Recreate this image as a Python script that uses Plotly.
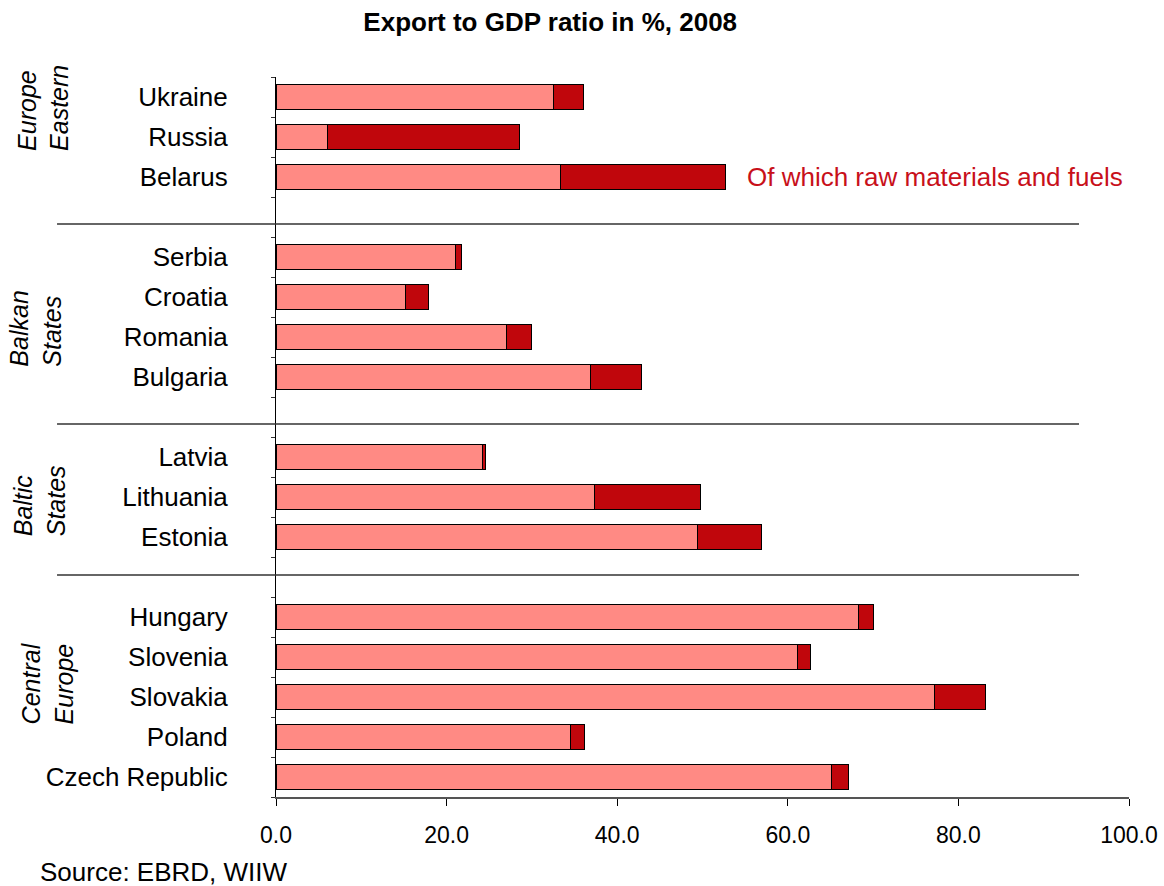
import plotly.graph_objects as go

# ---- data (top to bottom within the chart) ----
groups = ["Eastern Europe", "Balkan States", "Baltic States", "Central Europe"]
group_labels = ["<i>Europe<br>Eastern</i>", "<i>Balkan<br>States</i>",
                "<i>Baltic<br>States</i>", "<i>Central<br>Europe</i>"]
countries_eastern = ["Ukraine", "Russia", "Belarus"]
countries_balkan = ["Serbia", "Croatia", "Romania", "Bulgaria"]
countries_baltic = ["Latvia", "Lithuania", "Estonia"]
countries_central = ["Hungary", "Slovenia", "Slovakia", "Poland", "Czech Republic"]

other_eastern = [32.5, 6.0, 33.4]
raw_eastern = [3.6, 22.5, 19.3]
other_balkan = [21.1, 15.2, 27.0, 36.9]
raw_balkan = [0.7, 2.7, 3.0, 6.0]
other_baltic = [24.2, 37.3, 49.4]
raw_baltic = [0.4, 12.5, 7.5]
other_central = [68.3, 61.1, 77.2, 34.5, 65.1]
raw_central = [1.8, 1.6, 6.0, 1.7, 2.0]

x_ticks = [0, 20, 40, 60, 80, 100]

# ---- build category list with blank spacer rows ----
blocks = [
    (countries_eastern, other_eastern, raw_eastern),
    (countries_balkan, other_balkan, raw_balkan),
    (countries_baltic, other_baltic, raw_baltic),
    (countries_central, other_central, raw_central),
]
cats_top_down = []
other_vals, raw_vals, bar_cats = [], [], []
blank_names = []
for i, (c, o, r) in enumerate(blocks):
    cats_top_down += c
    bar_cats += c
    other_vals += o
    raw_vals += r
    if i < len(blocks) - 1:
        b = " " * (i + 1)
        blank_names.append(b)
        cats_top_down.append(b)

cats_bottom_up = cats_top_down[::-1]
n = len(cats_bottom_up)
idx = {c: i for i, c in enumerate(cats_bottom_up)}

LIGHT = "#FF8A84"
DARK = "#C0060C"
FONT = "Arial, Liberation Sans, sans-serif"

fig = go.Figure()
fig.add_trace(go.Bar(y=bar_cats, x=other_vals, orientation="h",
                     marker=dict(color=LIGHT, line=dict(color="#000", width=1)),
                     name="Other exports", showlegend=False))
fig.add_trace(go.Bar(y=bar_cats, x=raw_vals, orientation="h",
                     marker=dict(color=DARK, line=dict(color="#000", width=1)),
                     name="Raw materials and fuels", showlegend=False))

# separator lines between groups
sep_offsets = [-0.175, -0.175, 0.05]
for b, off in zip(blank_names, sep_offsets):
    yv = idx[b] + off
    fig.add_shape(type="line", xref="paper", yref="y",
                  x0=-0.2567, x1=0.9414, y0=yv, y1=yv,
                  line=dict(color="#333", width=1.5))

# group labels
group_y = [idx["Russia"] + 0.72, idx["Romania"] + 0.22,
           idx["Lithuania"] - 0.1, idx["Slovakia"] + 0.35]
group_x = [-0.2735, -0.282, -0.2775, -0.268]
for lab, yv, xv in zip(group_labels, group_y, group_x):
    fig.add_annotation(text=lab, x=xv, y=yv, xref="paper", yref="y",
                       textangle=-90, showarrow=False, align="left",
                       xanchor="center", yanchor="middle",
                       font=dict(family=FONT, size=25, color="#000"))

fig.add_annotation(text="Of which raw materials and fuels", x=55, y="Belarus",
                   xref="x", yref="y", xanchor="left", yanchor="middle",
                   showarrow=False, font=dict(family=FONT, size=26, color="#C8101A"))

fig.add_annotation(text="Source: EBRD, WIIW", x=-0.279, y=-0.104, xref="paper", yref="paper",
                   xanchor="left", yanchor="middle", showarrow=False,
                   font=dict(family=FONT, size=26, color="#000"))

fig.update_layout(
    width=1164, height=886,
    barmode="stack", bargap=0.375,
    plot_bgcolor="white", paper_bgcolor="white",
    margin=dict(l=276, r=35, t=77, b=89),
    title=dict(text="<b>Export to GDP ratio in %, 2008</b>", x=0.4727, xanchor="center",
               y=0.975, yanchor="middle", font=dict(family=FONT, size=26, color="#000")),
    font=dict(family=FONT, color="#000"),
)
fig.update_xaxes(range=[0, 100], tickvals=x_ticks, tickformat=".1f", automargin=False,
                 ticks="outside", ticklen=7, tickcolor="#000", tickwidth=1,
                 showline=True, linecolor="#555", linewidth=1.5,
                 showgrid=False, zeroline=False, ticklabelstandoff=10,
                 tickfont=dict(family=FONT, size=23, color="#000"))
fig.update_yaxes(type="category", categoryorder="array", categoryarray=cats_bottom_up,
                 range=[-0.5, n - 0.5], tickson="boundaries", automargin=False,
                 ticks="outside", ticklen=4, tickcolor="#333", tickwidth=1,
                 showline=True, linecolor="#000", linewidth=1,
                 showgrid=False, zeroline=False, ticklabelstandoff=42,
                 tickfont=dict(family=FONT, size=26, color="#000"))

fig.write_html("out.html")
